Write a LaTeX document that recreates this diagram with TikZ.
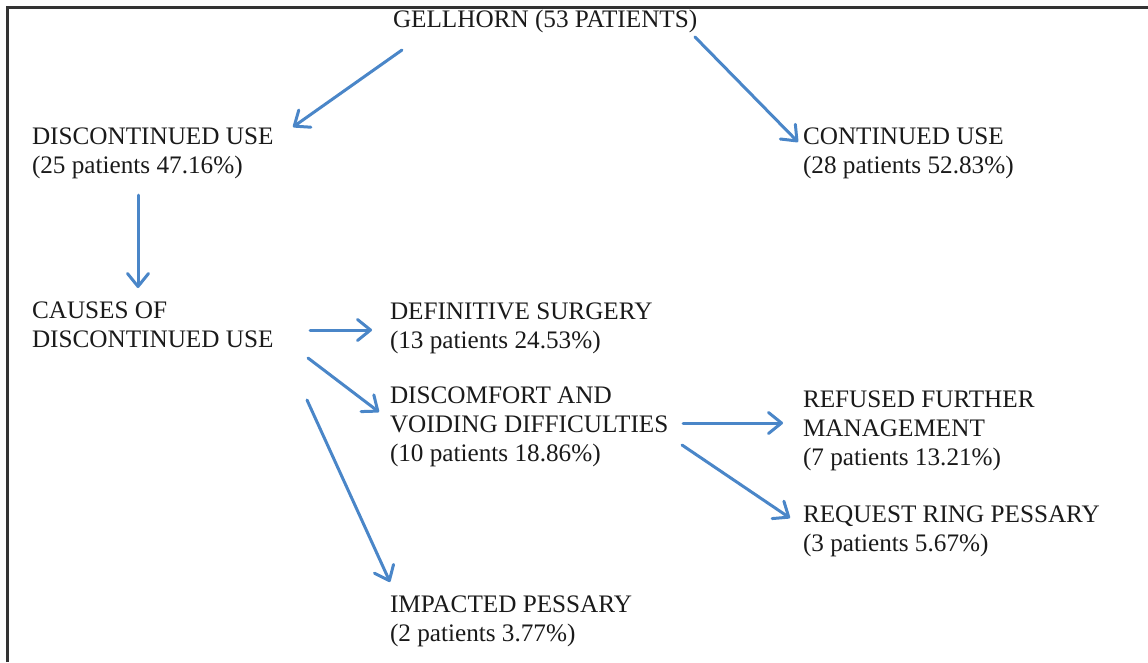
\documentclass[tikz,border=0pt]{standalone}
\usepackage{fontspec}
\setmainfont{Liberation Serif}
\usetikzlibrary{arrows.meta}
\definecolor{arrblue}{HTML}{4A86C8}
\definecolor{txt}{HTML}{1A1A1A}
\definecolor{frame}{HTML}{333333}
\tikzset{
  lbl/.style={anchor=base west, inner sep=0pt, outer sep=0pt, align=left, text=txt,
    font=\fontsize{25.2}{29}\selectfont},
  arr/.style={draw=arrblue, line width=3pt, line cap=round, line join=round,
    -{Straight Barb[length=13pt,width=21pt,line width=3pt,round]}},
}
\begin{document}
\begin{tikzpicture}[x=1pt,y=-1pt]
\useasboundingbox (0,0) rectangle (1148,662);
\draw[frame, line width=3pt] (7.5,662) -- (7.5,7.5) -- (1148,7.5);
% anchors: baseline of the last line
\node[lbl] (gell) at (393,27) {GELLHORN (53 PATIENTS)};
\node[lbl] (disc) at (32,173) {DISCONTINUED USE\\(25 patients 47.16\%)};
\node[lbl] (cont) at (803,173) {CONTINUED USE\\(28 patients 52.83\%)};
\node[lbl] (causes) at (32,347) {CAUSES OF\\DISCONTINUED USE};
\node[lbl] (defin) at (390,348) {DEFINITIVE SURGERY\\(13 patients 24.53\%)};
\node[lbl] (discomf) at (390,461) {DISCOMFORT AND\\VOIDING DIFFICULTIES\\(10 patients 18.86\%)};
\node[lbl] (refused) at (803,465) {REFUSED FURTHER\\MANAGEMENT\\(7 patients 13.21\%)};
\node[lbl] (request) at (803,551) {REQUEST RING PESSARY\\(3 patients 5.67\%)};
\node[lbl] (impact) at (390,641) {IMPACTED PESSARY\\(2 patients 3.77\%)};
\draw[arr] ([shift={(9,23)}]gell.base west) -- ([shift={(261,-46)}]disc.base west);
\draw[arr] ([shift={(302,10)}]gell.base west) -- ([shift={(-5,-31)}]cont.base west);
\draw[arr] ([shift={(106,22)}]disc.base west) -- ([shift={(106,-59)}]causes.base west);
\draw[arr] ([shift={(278,-17)}]causes.base west) -- ([shift={(-18,-18)}]defin.base west);
\draw[arr] ([shift={(276,11)}]causes.base west) -- ([shift={(-11,-49)}]discomf.base west);
\draw[arr] ([shift={(275,53)}]causes.base west) -- ([shift={(0,-59)}]impact.base west);
\draw[arr] ([shift={(293,-38)}]discomf.base west) -- ([shift={(-20,-42)}]refused.base west);
\draw[arr] ([shift={(292,-16)}]discomf.base west) -- ([shift={(-13,-33)}]request.base west);
\end{tikzpicture}
\end{document}
